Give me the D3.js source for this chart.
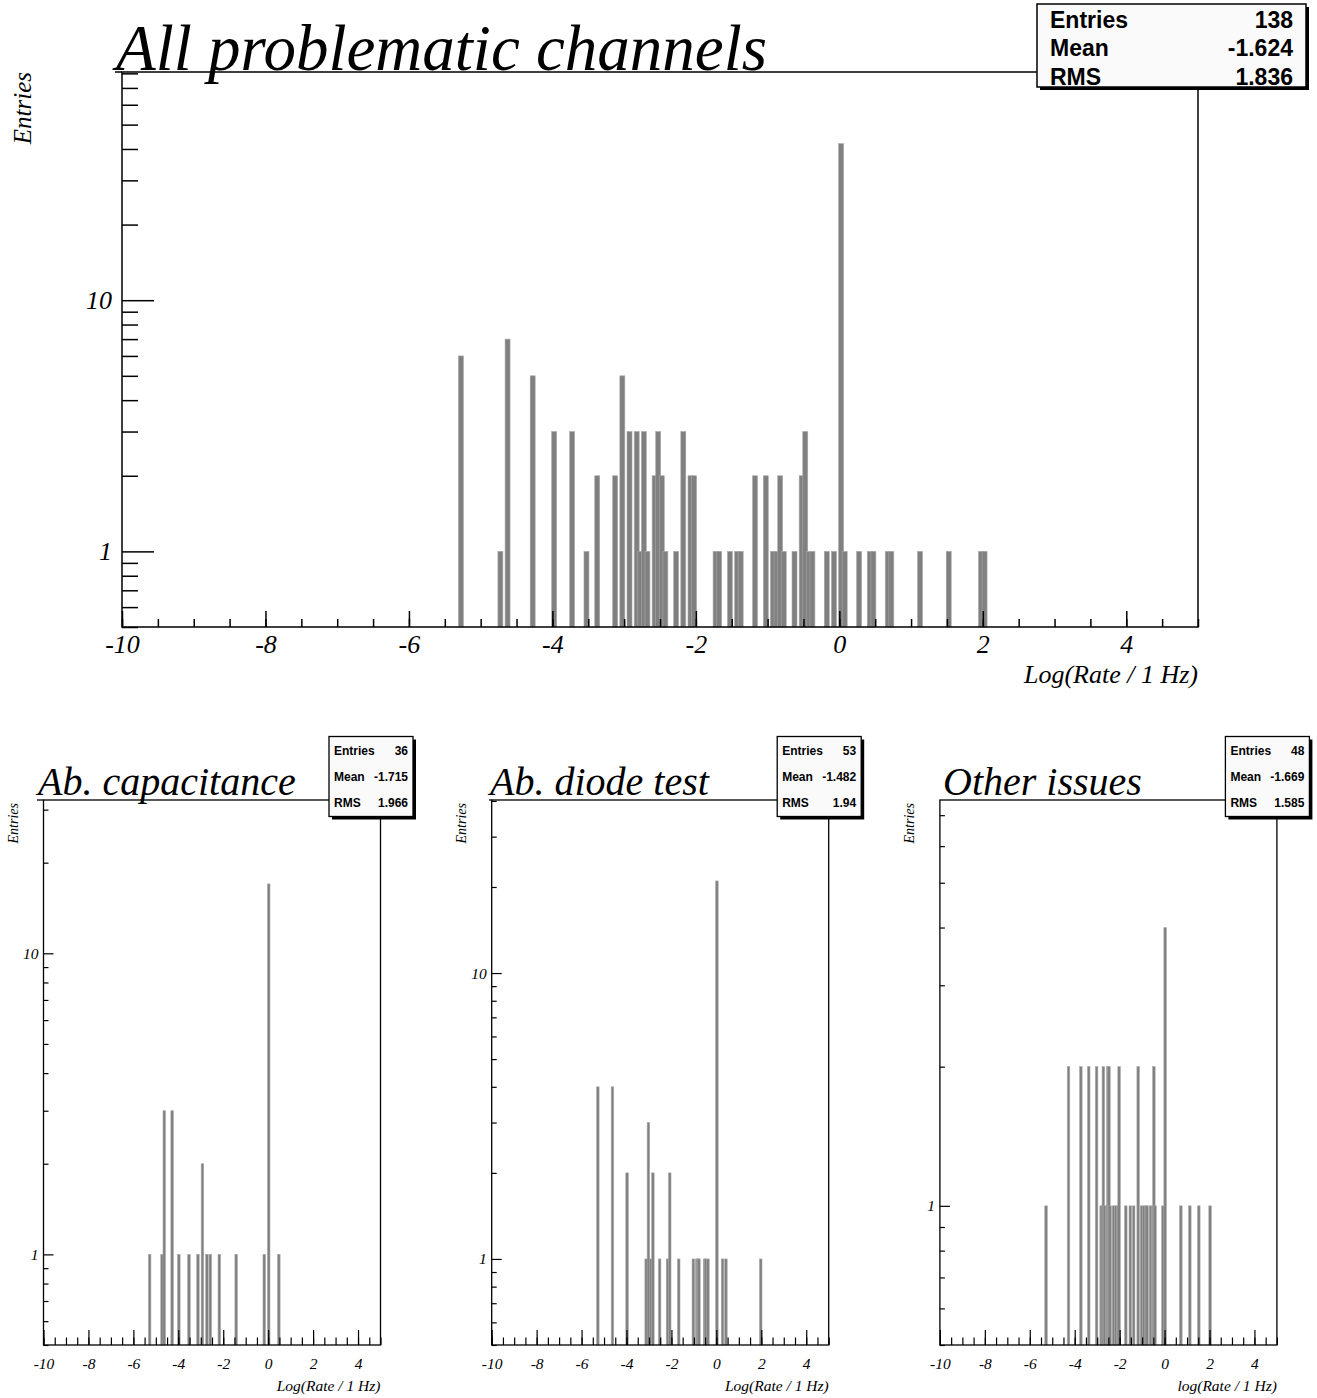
<!DOCTYPE html>
<html>
<head>
<meta charset="utf-8">
<script src="https://cdn.jsdelivr.net/npm/d3@7"></script>
<style>
  body { margin: 0; background: #fff; }
  svg { display: block; }
</style>
</head>
<body>
<script>
// histogram contents: bin centres of log10(rate) and entries
var binWidth = 0.05;

var allX = [-5.275,-4.725,-4.625,-4.275,-3.975,-3.725,-3.525,-3.375,-3.125,-3.025,
            -2.925,-2.825,-2.775,-2.725,-2.675,-2.575,-2.525,-2.475,-2.425,-2.275,
            -2.175,-2.075,-2.025,-1.725,-1.675,-1.525,-1.425,-1.375,-1.175,-1.025,
            -0.925,-0.875,-0.825,-0.775,-0.625,-0.525,-0.475,-0.425,-0.375,-0.175,
            -0.075,0.025,0.075,0.275,0.425,0.475,0.675,0.725,1.125,1.525,
            1.975,2.025];
var allN = [6,1,7,5,3,3,1,2,2,5,
            3,3,1,3,1,2,3,2,1,1,
            3,2,2,1,1,1,1,1,2,2,
            1,1,2,1,1,2,3,1,1,1,
            1,42,1,1,1,1,1,1,1,1,
            1,1];

var capX = [-5.275,-4.725,-4.625,-4.275,-3.975,-3.525,-3.125,-2.925,-2.725,-2.575,
            -2.175,-1.425,-0.175,0.025,0.475];
var capN = [1,1,3,3,1,1,1,2,1,1,1,1,1,17,1];

var diodeX = [-5.275,-4.625,-3.975,-3.125,-3.025,-2.925,-2.825,-2.525,-2.175,-2.075,
              -1.675,-1.025,-0.875,-0.825,-0.775,-0.525,-0.475,-0.375,0.025,0.275,
              0.425,1.975];
var diodeN = [4,4,2,1,3,1,2,1,1,2,1,1,1,1,1,1,1,1,21,1,1,1];

var otherX = [-5.275,-4.275,-3.725,-3.375,-3.025,-2.825,-2.775,-2.725,-2.675,-2.575,
              -2.525,-2.475,-2.425,-2.275,-2.175,-2.075,-2.025,-1.725,-1.525,-1.375,
              -1.175,-1.025,-0.925,-0.825,-0.775,-0.625,-0.525,-0.475,-0.425,-0.075,
              0.025,0.725,1.125,1.525,2.025];
var otherN = [1,2,2,2,2,1,1,2,1,1,2,2,1,1,1,1,2,1,1,1,2,1,1,1,1,1,1,2,1,1,4,1,1,1,1];

var titles = ["All problematic channels", "Ab. capacitance", "Ab. diode test", "Other issues"];
var xTitles = ["Log(Rate / 1 Hz)", "Log(Rate / 1 Hz)", "Log(Rate / 1 Hz)", "log(Rate / 1 Hz)"];
var statLabels = ["Entries", "Mean", "RMS"];
var statValues = [["138","-1.624","1.836"], ["36","-1.715","1.966"], ["53","-1.482","1.94"], ["48","-1.669","1.585"]];
var xDomain = [-10, 5];
var yMin = 0.5;
var yMax = [81, 32.3, 40.3, 7.55];
var xMajor = [-10,-8,-6,-4,-2,0,2,4];

var W = 1317, H = 1398;
var svg = d3.select("body").append("svg")
    .attr("width", W)
    .attr("height", H);

var serif = "'Liberation Serif', 'Times New Roman', serif";
var sans = "'Liberation Sans', Arial, sans-serif";

function drawPanel(i, xsData, nsData, L) {
  var g = svg.append("g");
  var x = d3.scaleLinear().domain(xDomain).range([L.l, L.r]);
  var y = d3.scaleLog().domain([yMin, yMax[i]]).range([L.b, L.t]);

  // bars
  var bins = xsData.map(function(c, j) { return {c: c, n: nsData[j]}; });
  g.selectAll(".bar").data(bins).enter().append("rect")
      .attr("x", function(d) { return x(d.c - binWidth / 2) - 0.7; })
      .attr("width", function(d) { return x(d.c + binWidth / 2) - x(d.c - binWidth / 2) + 1.4; })
      .attr("y", function(d) { return y(d.n); })
      .attr("height", function(d) { return L.b - y(d.n); })
      .style("fill", "#808080")
      .style("stroke", "#a8a8a8")
      .style("stroke-width", 0.6);

  // minor x ticks every 0.5
  var xMinor = d3.range(-10, 5.001, 0.5);
  g.append("g")
      .attr("transform", "translate(0," + L.b + ")")
      .call(d3.axisBottom(x).tickValues(xMinor).tickSize(-L.tx / 2).tickFormat(""))
      .call(function(a) { a.select(".domain").remove(); });
  var xa = g.append("g")
      .attr("transform", "translate(0," + L.b + ")")
      .call(d3.axisBottom(x).tickValues(xMajor).tickSize(-L.tx).tickPadding(L.xPad)
            .tickFormat(function(d) { return String(d); }));
  xa.select(".domain").remove();
  xa.selectAll("text").style("font-family", serif).style("font-style", "italic")
      .style("font-size", L.fs + "px").attr("fill", "#000");

  // log y ticks
  var yMinorVals = [], yMajorVals = [];
  [0.1, 1, 10].forEach(function(dec) {
    for (var m = 1; m < 10; m++) {
      var v = m * dec;
      if (v < yMin || v > yMax[i]) continue;
      if (m === 1) yMajorVals.push(v); else yMinorVals.push(v);
    }
  });
  g.append("g")
      .attr("transform", "translate(" + L.l + ",0)")
      .call(d3.axisLeft(y).tickValues(yMinorVals).tickSize(-L.ty / 2).tickFormat(""))
      .call(function(a) { a.select(".domain").remove(); });
  var ya = g.append("g")
      .attr("transform", "translate(" + L.l + ",0)")
      .call(d3.axisLeft(y).tickValues(yMajorVals).tickSize(-L.ty).tickPadding(L.yPad)
            .tickFormat(function(d) { return String(d); }));
  ya.select(".domain").remove();
  ya.selectAll("text").style("font-family", serif).style("font-style", "italic")
      .style("font-size", L.fs + "px").attr("fill", "#000");
  g.selectAll(".tick line").style("stroke", "#000").style("stroke-width", L.tw);

  // frame
  g.append("rect")
      .attr("x", L.l).attr("y", L.t)
      .attr("width", L.r - L.l).attr("height", L.b - L.t)
      .style("fill", "none").style("stroke", "#000").style("stroke-width", L.fw);
  g.append("line")
      .attr("x1", Math.min(L.titleX - 1, L.l)).attr("x2", L.l)
      .attr("y1", L.t).attr("y2", L.t)
      .style("stroke", "#000").style("stroke-width", L.fw);

  // titles
  g.append("text")
      .attr("x", L.titleX).attr("y", L.titleY)
      .style("font-family", serif).style("font-style", "italic")
      .style("font-size", L.titleFs + "px")
      .text(titles[i]);
  g.append("text")
      .attr("x", L.r).attr("y", L.xTitleY)
      .attr("text-anchor", "end")
      .style("font-family", serif).style("font-style", "italic")
      .style("font-size", L.fs + "px")
      .text(xTitles[i]);
  g.append("text")
      .attr("transform", "translate(" + L.yTitleX + "," + (L.t + L.yTitleOff) + ") rotate(-90)")
      .attr("text-anchor", "end")
      .style("font-family", serif).style("font-style", "italic")
      .style("font-size", L.yTitleFs + "px")
      .text("Entries");

  // stats box
  var s = L.stat;
  g.append("rect")
      .attr("x", s.x + s.sh).attr("y", s.y + s.sh)
      .attr("width", s.w).attr("height", s.h)
      .style("fill", "#000");
  g.append("rect")
      .attr("x", s.x).attr("y", s.y)
      .attr("width", s.w).attr("height", s.h)
      .style("fill", "#fafafa").style("stroke", "#000").style("stroke-width", s.bw);
  statLabels.forEach(function(lab, j) {
    g.append("text")
        .attr("x", s.x + s.pad).attr("y", s.rows[j])
        .style("font-family", sans).style("font-weight", "bold")
        .style("font-size", s.fs + "px")
        .text(lab);
    g.append("text")
        .attr("x", s.x + s.w - s.pad).attr("y", s.rows[j])
        .attr("text-anchor", "end")
        .style("font-family", sans).style("font-weight", "bold")
        .style("font-size", s.fs + "px")
        .text(statValues[i][j]);
  });
}

// big panel
drawPanel(0, allX, allN, {
  l: 122, r: 1198, t: 72, b: 627,
  tx: 16, ty: 32, tw: 1.5, fw: 1.5,
  fs: 26, xPad: 8, yPad: 10,
  titleX: 116, titleY: 70, titleFs: 65,
  xTitleY: 683, yTitleX: 31, yTitleOff: 0, yTitleFs: 25,
  stat: {x: 1037, y: 4, w: 269, h: 83, sh: 3, bw: 1.5, pad: 13, fs: 23, rows: [28, 56, 85]}
});

// three small panels
var smallTitleX = [38, 490, 943];
[[capX, capN], [diodeX, diodeN], [otherX, otherN]].forEach(function(h, k) {
  var l = 43.5 + k * 448.2, r = l + 337;
  drawPanel(k + 1, h[0], h[1], {
    l: l, r: r, t: 800, b: 1345,
    tx: 15, ty: 10, tw: 1.2, fw: 1.3,
    fs: 15.5, xPad: 13, yPad: 5,
    titleX: smallTitleX[k], titleY: 795, titleFs: 40,
    xTitleY: 1391, yTitleX: l - 26, yTitleOff: 3, yTitleFs: 14,
    stat: {x: r - 51.5, y: 736.5, w: 84, h: 80, sh: 3, bw: 1.3, pad: 5, fs: 12, rows: [755, 781, 807]}
  });
});
</script>
</body>
</html>
